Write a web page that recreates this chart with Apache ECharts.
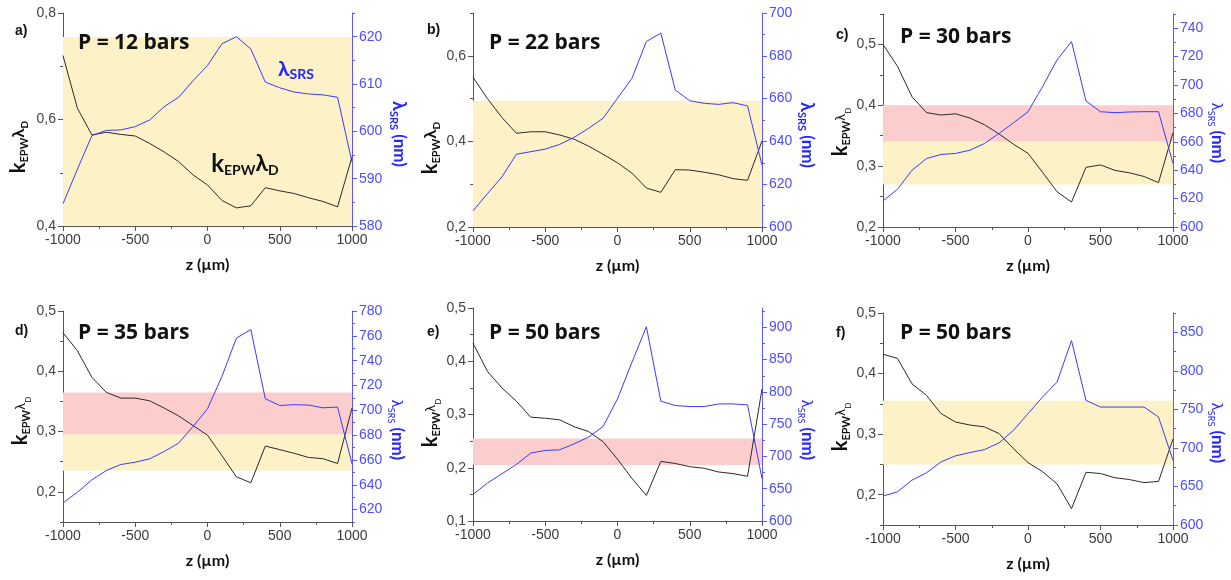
<!DOCTYPE html>
<html><head><meta charset="utf-8">
<script src="https://cdn.jsdelivr.net/npm/echarts@6/dist/echarts.min.js"></script>
<style>html,body{margin:0;padding:0;background:#fff}#c{width:1231px;height:580px}</style>
</head><body><div id="c"></div>
<script>
// ---------- data ----------
const zValues = [-1000,-900,-800,-700,-600,-500,-400,-300,-200,-100,0,100,200,300,400,500,600,700,800,900,1000];
const panelLetters = ['a)','b)','c)','d)','e)','f)'];
const pressureLabels = ['P = 12 bars','P = 22 bars','P = 30 bars','P = 35 bars','P = 50 bars','P = 50 bars'];

const kA = [0.72,0.621,0.571,0.576,0.572,0.569,0.555,0.539,0.521,0.496,0.477,0.448,0.434,0.438,0.472,0.466,0.461,0.453,0.446,0.436,0.53];
const lamA = [584.7,592,599.1,600.2,600.3,601,602.4,605.2,607.2,610.7,613.9,618.5,620,617.4,610.4,609.2,608.3,607.9,607.7,607.2,593.5];
const kB = [0.55,0.5,0.456,0.419,0.4225,0.4225,0.415,0.405,0.389,0.37,0.35,0.326,0.291,0.281,0.334,0.333,0.328,0.322,0.313,0.309,0.401];
const lamB = [607.5,615.6,623.4,634,635.2,636.4,638.6,641.9,646.1,650.8,660.2,669.5,686.7,690.6,664,659,657.8,657.3,658.1,656.6,628.9];
const kC = [0.5,0.464,0.414,0.388,0.384,0.386,0.379,0.368,0.353,0.336,0.321,0.29,0.258,0.241,0.298,0.302,0.293,0.289,0.283,0.273,0.355];
const lamC = [618.4,626.6,640,648.2,651.1,651.8,654.1,658.8,665.9,673.4,681.2,698.8,717.6,730.6,688.7,681.2,680.5,681,681.2,681.2,644.7];
const kD = [0.464,0.434,0.39,0.365,0.3555,0.3555,0.351,0.339,0.326,0.31,0.294,0.26,0.225,0.215,0.276,0.27,0.264,0.257,0.255,0.247,0.339];
const lamD = [625.4,634,644,651.5,656.3,658.2,660.9,666.8,673.5,687,701.2,727.3,758.2,765,709.3,703.9,704.5,704.2,702,702.6,656.9];
const kE = [0.434,0.381,0.35,0.325,0.295,0.293,0.29,0.277,0.268,0.249,0.216,0.18,0.148,0.212,0.208,0.202,0.199,0.192,0.189,0.184,0.348];
const lamE = [641.2,658.8,673.2,687.6,705.2,709.3,710.3,719.6,729.9,746.4,789.2,845.9,901,785.6,778.9,777.3,777.3,781.4,781.4,779.9,665.5];
const kF = [0.432,0.425,0.383,0.364,0.334,0.32,0.315,0.312,0.301,0.276,0.253,0.238,0.218,0.177,0.237,0.235,0.228,0.225,0.22,0.222,0.292];
const lamF = [637.5,643.1,658.2,667.7,681.9,689.7,694,697.8,706.5,722.8,744.4,766,785.3,839.2,761.6,753,753,753,753,740.1,684];

// left axis [min,max,step], right axis [min,max,step]
const leftRanges  = [[0.4,0.8,0.2],[0.2,0.7,0.2],[0.2,0.55,0.1],[0.15,0.5,0.1],[0.1,0.5,0.1],[0.15,0.5,0.1]];
const rightRanges = [[580,625,10],[600,700,20],[600,750,20],[610,780,20],[600,930,50],[600,875,50]];
// shaded bands (on left axis): [low, high, kind]
const bandsA = [[0.4,0.755,'y']];
const bandsB = [[0.2,0.495,'y']];
const bandsC = [[0.34,0.40,'p'],[0.27,0.34,'y']];
const bandsD = [[0.295,0.365,'p'],[0.235,0.295,'y']];
const bandsE = [[0.205,0.255,'p']];
const bandsF = [[0.25,0.355,'y']];

const kSeries = [kA,kB,kC,kD,kE,kF];
const lamSeries = [lamA,lamB,lamC,lamD,lamE,lamF];
const bands = [bandsA,bandsB,bandsC,bandsD,bandsE,bandsF];

// ---------- layout / style ----------
const grids = [
  {left:63, top:13, width:289, height:213},
  {left:473,top:13, width:289, height:214},
  {left:883,top:14, width:290, height:213},
  {left:63, top:311,width:289, height:211},
  {left:473,top:308,width:289, height:213},
  {left:883,top:313,width:290, height:212}
];
const BLACK='#2a2a2a', BLUE='#3b3bff', AXG='#555', AXB='#5a5aff';
const YEL='#fdf1c8', PINK='#fbcdcd';
const TF='Liberation Sans';

function range(min,max,step){const out=[];let i=Math.ceil(min/step-1e-9);while(i*step<=max+1e-9){out.push(+(i*step).toFixed(4));i++;}return out;}

const xAxis=[], yAxis=[], series=[], graphic=[];
grids.forEach((g,i)=>{
  xAxis.push({type:'value',gridIndex:i,min:-1000,max:1000,interval:500,
    axisLine:{onZero:false,lineStyle:{color:AXG,width:1}},
    axisTick:{length:5,lineStyle:{color:AXG}},
    minorTick:{show:true,splitNumber:2,length:3,lineStyle:{color:AXG}},
    splitLine:{show:false},minorSplitLine:{show:false},
    axisLabel:{color:'#3a3a3a',fontSize:14,fontFamily:TF,margin:7,formatter:v=>String(Math.round(v))},
    name:'z (µm)',nameLocation:'middle',nameGap:31,
    nameTextStyle:{fontWeight:'bold',fontSize:16,color:'#111',fontFamily:'Lato'}});
  const L=leftRanges[i], R=rightRanges[i];
  const mk=(pos,r,col,lcol,fmt)=>({type:'value',gridIndex:i,position:pos,min:r[0],max:r[1],
    splitLine:{show:false},
    axisLine:{show:true,onZero:false,lineStyle:{color:col,width:1}},
    axisTick:{show:true,length:5,customValues:range(r[0],r[1],r[2]),lineStyle:{color:col}},
    axisLabel:{show:true,customValues:range(r[0],r[1],r[2]),formatter:fmt,color:lcol,fontSize:14,fontFamily:TF,margin:7}});
  const mn=(pos,r,col)=>({type:'value',gridIndex:i,position:pos,min:r[0],max:r[1],
    splitLine:{show:false},axisLine:{show:false,onZero:false},
    axisTick:{show:true,length:3,customValues:range(r[0],r[1],r[2]/2),lineStyle:{color:col}},
    axisLabel:{show:false}});
  const base=yAxis.length;
  yAxis.push(mk('left',L,AXG,'#444',v=>v.toFixed(1).replace('.',',')));
  yAxis.push(mk('right',R,AXB,'#4d4dff',v=>String(Math.round(v))));
  yAxis.push(mn('left',L,AXG));
  yAxis.push(mn('right',R,AXB));
  series.push({type:'line',xAxisIndex:i,yAxisIndex:base,data:zValues.map((z,j)=>[z,kSeries[i][j]]),
    showSymbol:false,lineStyle:{color:BLACK,width:1},itemStyle:{color:BLACK},z:3,
    markArea:{silent:true,label:{show:false},
      data:bands[i].map(b=>[{yAxis:b[0],itemStyle:{color:b[2]==='y'?YEL:PINK,opacity:1}},{yAxis:b[1]}])}});
  series.push({type:'line',xAxisIndex:i,yAxisIndex:base+1,data:zValues.map((z,j)=>[z,lamSeries[i][j]]),
    showSymbol:false,lineStyle:{color:BLUE,width:1},itemStyle:{color:BLUE},z:4});
});

// ---------- text annotations ----------
function rt(x,y,rot,text,rich){return {type:'text',x:x,y:y,rotation:rot,silent:true,z:100,
  style:{text:text,rich:rich,align:'center',verticalAlign:'middle',textAlign:'center',textVerticalAlign:'middle'}};}
function st(x,y,text,font,fill,align){return {type:'text',x:x,y:y,silent:true,z:100,
  style:{text:text,font:font,fill:fill,align:align||'left',verticalAlign:'middle',textAlign:align||'left',textVerticalAlign:'middle'}};}

const letterPos=[[15,31],[427,30],[836,35],[15,331],[427,332],[836,333]];
const pPos=[[78,43],[489,43],[900,37],[78,333],[489,333],[900,333]];
const leftTitlePos=[[19,147],[431,148],[841,132],[21,421],[431,423],[841,427]];
const rightTitlePos=[[399,134],[807,135],[1217,133],[397,430],[807,430],[1217,433]];

for(let i=0;i<6;i++){
  graphic.push(st(letterPos[i][0],letterPos[i][1],panelLetters[i],'bold 14px "Liberation Sans"','#111'));
  graphic.push(st(pPos[i][0],pPos[i][1],pressureLabels[i],'bold 21px "Open Sans"','#111'));
  const heavy=i<2;
  graphic.push(rt(leftTitlePos[i][0],leftTitlePos[i][1],Math.PI/2,'{k|k}{s|EPW}{l|λ}{d|D}',{
    k:{fontSize:20,fontWeight:'bold',fontFamily:'Lato',fill:'#111',lineHeight:22},
    s:{fontSize:11,fontWeight:'bold',fontFamily:'Lato',fill:'#111',lineHeight:8,verticalAlign:'bottom'},
    l:{fontSize:heavy?17:13,fontWeight:heavy?'bold':'normal',fontFamily:'Lato',fill:'#111',lineHeight:22},
    d:{fontSize:heavy?10:8,fontWeight:heavy?'bold':'normal',fontFamily:'Lato',fill:'#111',lineHeight:8,verticalAlign:'bottom'}}));
  graphic.push(rt(rightTitlePos[i][0],rightTitlePos[i][1],-Math.PI/2,'{l|λ}{s|SRS}{n| (nm)}',{
    l:{fontSize:heavy?18:15,fontWeight:heavy?'bold':'normal',fontFamily:'Lato',fill:'#2525ff',lineHeight:22},
    s:{fontSize:heavy?11:9,fontWeight:heavy?'bold':'normal',fontFamily:'Lato',fill:'#2525ff',lineHeight:8,verticalAlign:'bottom'},
    n:{fontSize:17,fontWeight:'bold',fontFamily:'Lato',fill:'#2525ff',lineHeight:22}}));
}
// in-plot labels of panel a
graphic.push(rt(296,69,0,'{l|λ}{s|SRS}',{
  l:{fontSize:21,fontWeight:'bold',fontFamily:'Lato',fill:'#2525ff',lineHeight:24},
  s:{fontSize:14,fontWeight:'bold',fontFamily:'Lato',fill:'#2525ff',lineHeight:10,verticalAlign:'bottom'}}));
graphic.push(rt(245,164,0,'{k|k}{s|EPW}{l|λ}{d|D}',{
  k:{fontSize:24,fontWeight:'bold',fontFamily:'Lato',fill:'#111',lineHeight:26},
  s:{fontSize:14,fontWeight:'bold',fontFamily:'Lato',fill:'#111',lineHeight:10,verticalAlign:'bottom'},
  l:{fontSize:23,fontWeight:'bold',fontFamily:'Lato',fill:'#111',lineHeight:26},
  d:{fontSize:14,fontWeight:'bold',fontFamily:'Lato',fill:'#111',lineHeight:10,verticalAlign:'bottom'}}));

const chart=echarts.init(document.getElementById('c'),null,{renderer:'canvas'});
chart.setOption({animation:false,backgroundColor:'#fff',grid:grids,xAxis,yAxis,series,graphic,tooltip:{show:false}});
</script></body></html>
